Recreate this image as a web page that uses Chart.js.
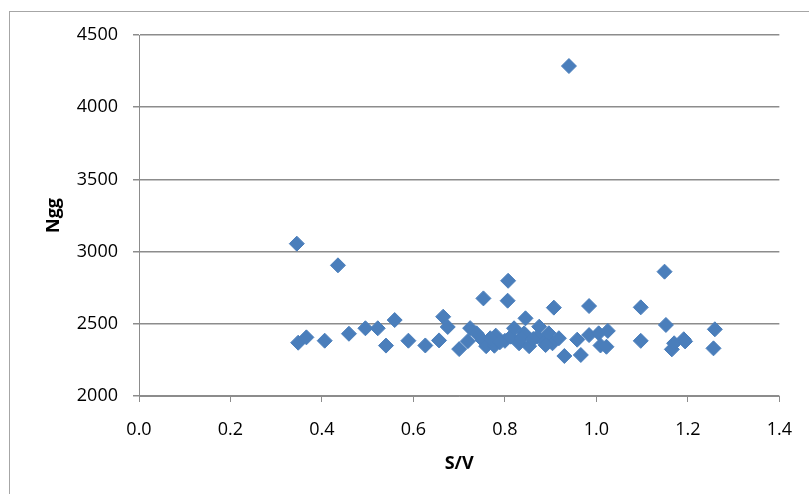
<!DOCTYPE html>
<html>
<head>
<meta charset="utf-8">
<script src="https://cdn.jsdelivr.net/npm/chart.js@4"></script>
<style>
  html, body { margin: 0; padding: 0; background: #fff; overflow: hidden; }
  #wrap { position: relative; width: 809px; height: 494px; }
  #frame { position: absolute; left: 9px; top: 11px; width: 900px; height: 600px; border: 1px solid #a6a6a6; }
  canvas { position: absolute; left: 0; top: 0; }
</style>
</head>
<body>
<div id="wrap">
  <div id="frame"></div>
  <canvas id="svChart" width="809" height="494"></canvas>
</div>
<script>
// S/V vs Ngg
const sv = [
  0.345, 0.435, 0.940, 0.348, 0.366, 0.406, 0.459, 0.495, 0.522, 0.540,
  0.559, 0.589, 0.626, 0.656, 0.665, 0.675, 0.700, 0.724, 0.738, 0.719,
  0.751, 0.759, 0.753, 0.780, 0.777, 0.800, 0.807, 0.806, 0.813, 0.820,
  0.831, 0.845, 0.842, 0.853, 0.875, 0.871, 0.887, 0.896, 0.904, 0.907,
  0.918, 0.930, 0.889, 0.958, 0.966, 0.984, 0.984, 1.005, 1.009, 1.025,
  1.022, 1.097, 1.097, 1.149, 1.152, 1.165, 1.170, 1.191, 1.194, 1.259,
  1.256, 0.768, 0.789, 0.836, 0.862
];
const ngg = [
  3055, 2905, 4285, 2369, 2406, 2383, 2431, 2469, 2469, 2349,
  2526, 2383, 2350, 2385, 2549, 2478, 2325, 2470, 2434, 2380,
  2388, 2345, 2676, 2418, 2348, 2382, 2798, 2660, 2411, 2469,
  2365, 2538, 2434, 2345, 2480, 2411, 2376, 2434, 2365, 2612,
  2400, 2277, 2353, 2390, 2284, 2623, 2422, 2434, 2350, 2451,
  2341, 2614, 2382, 2861, 2492, 2323, 2365, 2393, 2378, 2462,
  2330, 2400, 2372, 2400, 2395
];

const ctx = document.getElementById('svChart').getContext('2d');
const points = sv.map((x, i) => ({ x: x, y: ngg[i] }));

new Chart(ctx, {
  type: 'scatter',
  data: {
    datasets: [{
      label: 'Ngg',
      data: points,
      pointStyle: 'rectRot',
      pointRadius: 7.5,
      pointHoverRadius: 7.5,
      backgroundColor: 'rgba(74, 126, 187, 1)',
      borderColor: 'rgba(74, 126, 187, 1)',
      borderWidth: 1
    }]
  },
  options: {
    responsive: false,
    animation: false,
    events: [],
    layout: { padding: { left: 0, top: 35, right: 28, bottom: 0 } },
    plugins: { legend: { display: false }, tooltip: { enabled: false } },
    scales: {
      x: {
        type: 'linear',
        min: 0,
        max: 1.4,
        afterFit: s => { s.height = 98; },
        ticks: {
          stepSize: 0.2,
          padding: 17,
          color: '#000',
          font: { family: 'Open Sans', size: 18 },
          callback: v => v.toFixed(1)
        },
        grid: { drawOnChartArea: false, tickLength: 6, color: '#8c8c8c' },
        border: { color: '#8c8c8c', width: 1 },
        title: {
          display: true,
          text: 'S/V',
          color: '#000',
          font: { family: 'Open Sans', size: 18, weight: 'bold' },
          padding: { top: 0, bottom: 19 }
        }
      },
      y: {
        min: 2000,
        max: 4500,
        afterFit: s => { s.width = 139; },
        ticks: {
          stepSize: 500,
          padding: 15,
          color: '#000',
          font: { family: 'Open Sans', size: 18 },
          callback: v => String(v)
        },
        grid: { tickLength: 6, color: '#8c8c8c', lineWidth: 1.5 },
        border: { color: '#8c8c8c', width: 1 },
        title: {
          display: true,
          text: 'Ngg',
          color: '#000',
          font: { family: 'Open Sans', size: 18, weight: 'bold' },
          padding: { top: 43, bottom: 0 }
        }
      }
    }
  }
});
</script>
</body>
</html>
